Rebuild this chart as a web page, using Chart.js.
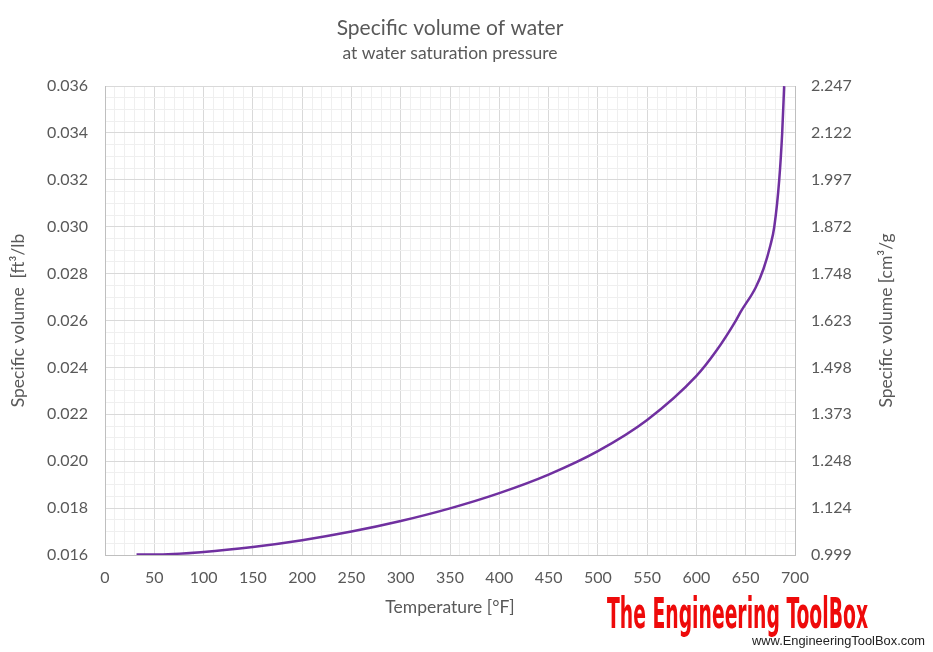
<!DOCTYPE html>
<html>
<head>
<meta charset="utf-8">
<script src="https://cdn.jsdelivr.net/npm/chart.js@4/dist/chart.umd.min.js"></script>
<style>
  html, body { margin: 0; padding: 0; background: #fff; }
  #wrap { width: 933px; height: 652px; }
</style>
</head>
<body>
<div id="wrap"><canvas id="myChart" width="933" height="652"></canvas></div>
<script>
// data
var temperatures = [32, 50, 100, 150, 200, 250, 300, 350, 400, 450, 500, 550, 600, 620, 640, 645, 660, 668, 675, 679, 684, 687, 689];
var volumeFt3 = [0.01602, 0.01602, 0.01613, 0.01634, 0.01663, 0.01700, 0.01745, 0.01799, 0.01864, 0.01943, 0.02043, 0.02176, 0.02364, 0.0247, 0.0260, 0.02638, 0.0274, 0.0282, 0.0292, 0.0300, 0.0320, 0.0340, 0.0360];
var rightTickLabels = ["0.999", "1.124", "1.248", "1.373", "1.498", "1.623", "1.748", "1.872", "1.997", "2.122", "2.247"];

var textColor = "#595959";
var fontName = "Lato, 'Open Sans', sans-serif";

function isMajorY(v) {
  return Math.round(v * 10000) % 20 === 0;
}
function isMajorX(v) {
  return Math.round(v) % 50 === 0;
}

// right axis title (reads bottom to top) and the logo
var extraText = {
  id: "extraText",
  afterDraw: function (chart) {
    var ctx = chart.ctx;
    var area = chart.chartArea;
    ctx.save();
    ctx.translate(chart.scales.y2.right - 47, (area.top + area.bottom) / 2);
    ctx.rotate(-Math.PI / 2);
    ctx.font = "17.5px " + fontName;
    ctx.fillStyle = textColor;
    ctx.textAlign = "center";
    ctx.textBaseline = "middle";
    ctx.fillText("Specific volume [cm³/g", 0, 0);
    ctx.restore();

    // logo
    ctx.save();
    ctx.font = "bold 42px 'Liberation Sans Narrow', 'DejaVu Sans Condensed', sans-serif";
    var w = ctx.measureText("The Engineering ToolBox").width;
    ctx.translate(607, 628);
    ctx.scale(261 / w, 1);
    ctx.fillStyle = "#ee0a0a";
    ctx.textBaseline = "alphabetic";
    ctx.fillText("The Engineering ToolBox", 0, 0);
    ctx.restore();

    ctx.save();
    ctx.font = "13px 'Liberation Sans', Arial, sans-serif";
    var w2 = ctx.measureText("www.EngineeringToolBox.com").width;
    ctx.translate(752, 645);
    ctx.scale(173 / w2, 1);
    ctx.fillStyle = "#222";
    ctx.fillText("www.EngineeringToolBox.com", 0, 0);
    ctx.restore();
  },
};

var ctx = document.getElementById("myChart").getContext("2d");
var myChart = new Chart(ctx, {
  type: "line",
  data: {
    datasets: [
      {
        label: "Specific volume",
        data: temperatures.map(function (t, i) {
          return { x: t, y: volumeFt3[i] };
        }),
        borderColor: "#7030a0",
        borderWidth: 2.5,
        pointRadius: 0,
        fill: false,
        cubicInterpolationMode: "monotone",
        yAxisID: "y",
      },
    ],
  },
  options: {
    responsive: false,
    animation: false,
    layout: { padding: 0 },
    plugins: {
      legend: { display: false },
      tooltip: { enabled: false },
      title: {
        display: true,
        fullSize: false,
        text: "Specific volume of water",
        color: textColor,
        font: { family: fontName, size: 21, weight: "normal" },
        padding: { top: 15.4, bottom: 2 },
      },
      subtitle: {
        display: true,
        fullSize: false,
        text: "at water saturation pressure",
        color: textColor,
        font: { family: fontName, size: 17.5 },
        padding: { top: 0, bottom: 22.5 },
      },
    },
    scales: {
      x: {
        type: "linear",
        min: 0,
        max: 700,
        afterFit: function (scale) {
          scale.height = 97;
        },
        ticks: {
          stepSize: 10,
          autoSkip: false,
          maxRotation: 0,
          minRotation: 0,
          padding: 13.5,
          color: textColor,
          font: { family: fontName, size: 16 },
          callback: function (v) {
            return isMajorX(v) ? String(v) : "";
          },
        },
        grid: {
          drawTicks: false,
          color: function (c) {
            return c.tick && isMajorX(c.tick.value) ? "#d9d9d9" : "#efefef";
          },
        },
        border: { color: "#bfbfbf" },
        title: {
          display: true,
          text: "Temperature [°F]",
          color: textColor,
          font: { family: fontName, size: 17.5 },
          padding: { top: 0, bottom: 34.5 },
        },
      },
      y: {
        position: "left",
        min: 0.016,
        max: 0.036,
        afterFit: function (scale) {
          scale.width = 105;
        },
        ticks: {
          stepSize: 0.0005,
          maxTicksLimit: 100,
          autoSkip: false,
          padding: 17,
          color: textColor,
          font: { family: fontName, size: 16 },
          callback: function (v) {
            return isMajorY(v) ? v.toFixed(3) : "";
          },
        },
        grid: {
          drawTicks: false,
          color: function (c) {
            return c.tick && isMajorY(c.tick.value) ? "#d9d9d9" : "#efefef";
          },
        },
        border: { color: "#bfbfbf" },
        title: {
          display: true,
          text: "Specific volume  [ft³/lb",
          color: textColor,
          font: { family: fontName, size: 17.5 },
          padding: { top: 8, bottom: 0 },
        },
      },
      y2: {
        position: "right",
        min: 0.016,
        max: 0.036,
        afterFit: function (scale) {
          scale.width = 138;
        },
        ticks: {
          stepSize: 0.002,
          padding: 16,
          color: textColor,
          font: { family: fontName, size: 16 },
          callback: function (v, i) {
            return rightTickLabels[i];
          },
        },
        grid: { drawOnChartArea: false, drawTicks: false },
        border: { color: "#bfbfbf" },
      },
    },
  },
  plugins: [extraText],
});
</script>
</body>
</html>
